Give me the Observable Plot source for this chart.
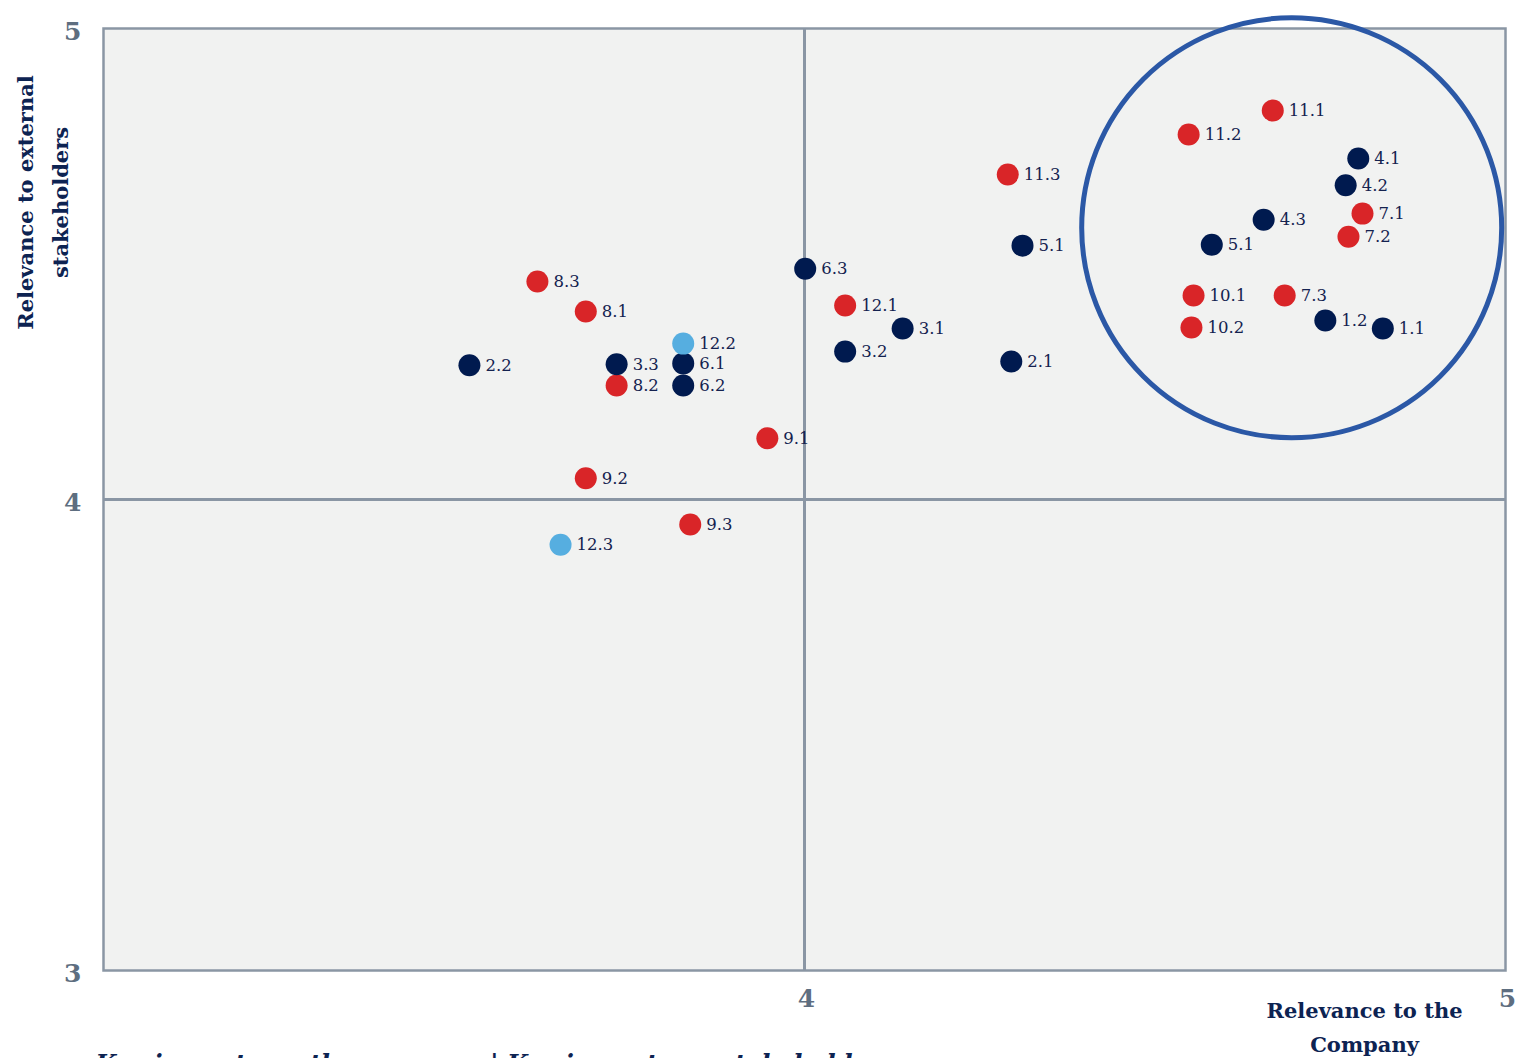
<!DOCTYPE html>
<html>
<head>
<meta charset="utf-8">
<script src="https://cdn.jsdelivr.net/npm/d3@7"></script>
<script src="https://cdn.jsdelivr.net/npm/@observablehq/plot@0.6"></script>
<style>
  html, body { margin: 0; padding: 0; background: #ffffff; overflow: hidden; }
  #chart svg { display: block; }
</style>
</head>
<body>
<div id="chart"></div>
<script>
// Topic codes
const labels = ["11.1","11.2","11.3","7.1","7.2","7.3","10.1","10.2","8.3","8.1","8.2","12.1","9.1","9.2","9.3",
                "4.1","4.2","4.3","5.1","1.2","1.1","5.1","2.1","6.3","3.1","3.2","2.2","3.3","6.1","6.2",
                "12.2","12.3"];
// Relevance to the Company
const companyValues = [4.668,4.548,4.290,4.796,4.776,4.685,4.555,4.552,3.619,3.688,3.732,4.058,3.947,3.688,3.837,
                       4.790,4.772,4.655,4.581,4.743,4.825,4.311,4.295,4.001,4.140,4.058,3.522,3.732,3.827,3.827,
                       3.827,3.652];
// Relevance to external stakeholders
const stakeholderValues = [4.826,4.775,4.690,4.607,4.558,4.433,4.433,4.365,4.463,4.399,4.242,4.412,4.130,4.045,3.947,
                           4.724,4.667,4.594,4.541,4.380,4.363,4.539,4.293,4.490,4.363,4.314,4.285,4.287,4.289,4.242,
                           4.331,3.904];
// Group of each topic
const groups = ["red","red","red","red","red","red","red","red","red","red","red","red","red","red","red",
                "navy","navy","navy","navy","navy","navy","navy","navy","navy","navy","navy","navy","navy","navy","navy",
                "light","light"];
const groupNames = ["red","navy","light"];
const groupColors = ["#d92528","#001a4f","#56aee0"];

// Highlighted cluster centre
const highlight = [{x: 4.695, y: 4.577}];

const xTicks = [4, 5];
const yTicks = [3, 4, 5];
const yTitle = "Relevance to external\nstakeholders";
const xTitle = "Relevance to the\nCompany";
const caption = "Key impacts on the company | Key impacts on stakeholders";

const points = labels.map((l, i) => ({label: l, x: companyValues[i], y: stakeholderValues[i], g: groups[i]}));

const serif = "'DejaVu Serif', 'Liberation Serif', serif";
const gridColor = "#8a96a4";

const chart = Plot.plot({
  width: 1516,
  height: 1058,
  marginLeft: 103,
  marginRight: 11,
  marginTop: 28,
  marginBottom: 88,
  style: {fontFamily: serif, background: "#ffffff", overflow: "visible"},
  x: {domain: [3, 5]},
  y: {domain: [3, 5]},
  color: {domain: groupNames, range: groupColors},
  marks: [
    Plot.frame({fill: "#f1f2f1", stroke: null}),
    Plot.ruleX([4], {stroke: gridColor, strokeWidth: 3}),
    Plot.ruleY([4], {stroke: gridColor, strokeWidth: 3}),
    Plot.frame({stroke: gridColor, strokeWidth: 2.5}),
    Plot.axisX({ticks: xTicks, tickFormat: "d", tickSize: 0, tickPadding: 19, label: null, fontSize: 25, fontWeight: "bold", fill: "#5e6e80", dx: 2}),
    Plot.axisY({ticks: yTicks, tickFormat: "d", tickSize: 0, tickPadding: 22, label: null, fontSize: 25, fontWeight: "bold", fill: "#5e6e80", dy: 3}),
    Plot.dot(points, {x: "x", y: "y", r: 11, fill: "g", stroke: null}),
    Plot.text(points, {x: "x", y: "y", text: "label", dx: 16, textAnchor: "start", fontSize: 16.5, fill: "#14224f"}),
    Plot.dot(highlight, {x: "x", y: "y", r: 210, fill: "none", stroke: "#2b58a6", strokeWidth: 5}),
    Plot.text([yTitle], {frameAnchor: "top-left", text: d => d, rotate: -90, dx: -95, dy: 174, fontSize: 21, fontWeight: "bold", fill: "#0d2352", lineHeight: 1.65, textAnchor: "middle"}),
    Plot.text([xTitle], {frameAnchor: "bottom-right", text: d => d, dx: -141, dy: 81, fontSize: 21, fontWeight: "bold", fill: "#0d2352", lineHeight: 1.6, textAnchor: "middle"}),
    Plot.text([caption], {frameAnchor: "bottom-left", text: d => d, dx: -8, dy: 84, lineAnchor: "top", textAnchor: "start", fontSize: 24, fontWeight: "bold", fontStyle: "italic", fill: "#0d2352"})
  ]
});
document.getElementById("chart").appendChild(chart);
</script>
</body>
</html>
